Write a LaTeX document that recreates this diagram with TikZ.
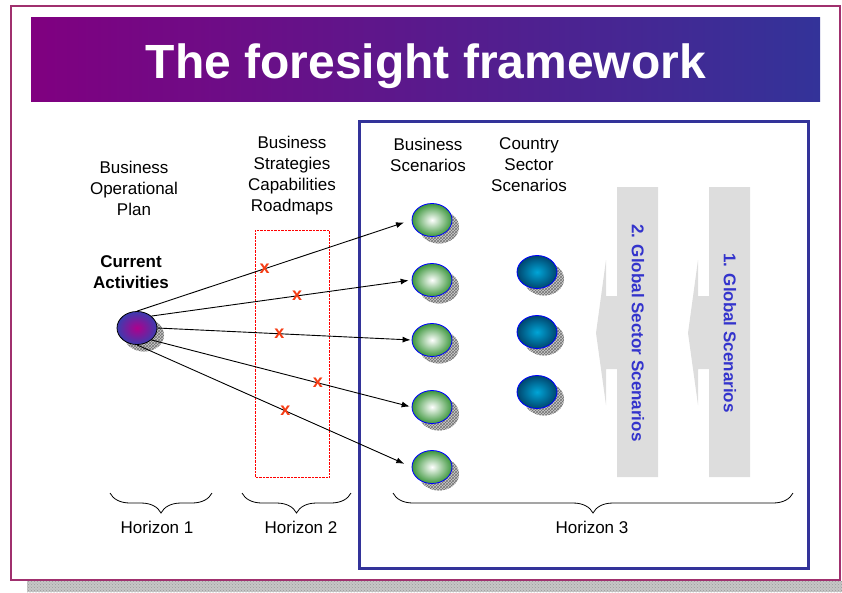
\documentclass[tikz,border=0pt]{standalone}
\usepackage{fontspec}
\setmainfont{Liberation Sans}
\usetikzlibrary{arrows.meta,shapes.geometric,shadows,patterns,decorations.pathreplacing}
\tikzset{>=latex}
\definecolor{framepink}{RGB}{160,48,110}
\definecolor{titlepurple}{RGB}{128,0,128}
\definecolor{titleblue}{RGB}{51,51,153}
\definecolor{arrowgray}{RGB}{221,221,221}
\definecolor{labelblue}{RGB}{51,51,204}
\definecolor{xred}{RGB}{245,60,20}
\tikzset{
  txt/.style={align=center,font=\fontsize{17}{21}\selectfont},
  scenshadow/.style={general shadow={shadow xshift=7pt,shadow yshift=-7pt,fill=gray!40},
                     general shadow={shadow xshift=7pt,shadow yshift=-7pt,pattern=crosshatch,pattern color=gray!90!black}},
  blob/.style={ellipse,minimum width=40pt,minimum height=33pt,inner sep=0pt,scenshadow},
  bizscen/.style={blob,draw=blue,line width=0.8pt,inner color=white,outer color={rgb,255:red,60;green,150;blue,60}},
  ctryscen/.style={blob,draw=blue,line width=0.8pt,inner color={rgb,255:red,0;green,165;blue,215},outer color={rgb,255:red,0;green,70;blue,110}},
  xmark/.style={text=xred,font=\fontsize{18}{18}\selectfont\bfseries,inner sep=0pt},
  hbrace/.style={decorate,decoration={brace,mirror,amplitude=20pt},line width=0.8pt}
}

\begin{document}
\begin{tikzpicture}[x=1pt,y=-1pt]
			\useasboundingbox (0,0) rectangle (842,592);
			\def \shaftw {41}
%-----Frame, shadow strip and title-----
			\fill[gray!45] (27,581) rectangle (842,592);
			\fill[pattern=crosshatch dots,pattern color=gray!80] (27,581) rectangle (842,592);
			\draw[framepink,line width=1.5pt] (11,6) rectangle (840,580);
			\shade[left color=titlepurple,right color=titleblue] (31,17) rectangle (820,101);
			\node[anchor=base,text=white,font=\fontsize{48}{56}\selectfont\bfseries] (title) at (426,78) {The foresight framework};
			\draw[titleblue,line width=3pt] (359,121) rectangle (808,568);
%-----Column headings-----
			\node[txt] (bop) at (134,188) {Business\\Operational\\Plan};
			\node[txt,font=\fontsize{17}{21}\selectfont\bfseries] (curtxt) at (131,272) {Current\\Activities};
			\node[txt] (bscr) at (292,176) {Business\\Strategies\\Capabilities\\Roadmaps};
			\node[txt] (bsh) at (428,155) {Business\\Scenarios};
			\node[txt] (csh) at (529,165) {Country\\Sector\\Scenarios};
%-----Scenario blobs-----
			\node[blob,draw=black,line width=0.8pt,inner color={rgb,255:red,175;green,0;blue,140},outer color={rgb,255:red,60;green,60;blue,175}] (cur) at (137,328) {};
			\foreach \y [count=\i] in {220,280,340,407,467}
				{
					\node[bizscen] (bs\i) at (432,\y) {};
				}
			\foreach \y [count=\i] in {272,332,392}
				{
					\node[ctryscen] (cs\i) at (537,\y) {};
				}
			\draw[red,densely dotted] (255,230) rectangle (329,477);
%-----Draw the arrows here-----
			\foreach \a/\i/\s/\p in {north/1/8pt/0.465,north east/2/3pt/0.56,east/3/1pt/0.48,south east/4/2pt/0.64,south/5/8pt/0.54}
				{
					\draw[-{Latex[length=8pt,width=6pt]},line width=0.9pt,shorten >=\s] (cur.\a) -- (bs\i.west) node[xmark,pos=\p] (x\i) {x};
				}
%-----Global scenario block arrows-----
			\foreach \x/\t [count=\i] in {709/1. Global Scenarios,617/2. Global Sector Scenarios}
				{
					\fill[arrowgray] (\x,187) -- ++(\shaftw,0) -- (\x+\shaftw,477) -- (\x,477) -- (\x,369) -- (\x-11,369)
						-- (\x-11,405) -- (\x-21,333) -- (\x-11,260) -- (\x-11,296) -- (\x,296) -- cycle;
					\node[rotate=-90,text=labelblue,font=\fontsize{17}{17}\selectfont\bfseries] (gs\i) at (\x+21,333) {\t};
				}
%-----Horizons-----
			\draw[hbrace] (110,493) -- (212,493);
			\draw[hbrace] (242,493) -- (351,493);
			\draw[hbrace] (393,493) -- (793,493);
			\node[txt] (h1) at (157,527) {Horizon 1};
			\node[txt] (h2) at (301,527) {Horizon 2};
			\node[txt] (h3) at (592,527) {Horizon 3};
		\end{tikzpicture}
\end{document}
